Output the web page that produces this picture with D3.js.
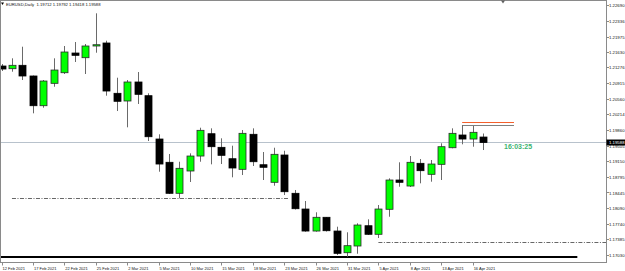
<!DOCTYPE html>
<html>
<head>
<meta charset="utf-8">
<script src="https://cdn.jsdelivr.net/npm/d3@7"></script>
<style>
  body { margin: 0; background: #fff; }
  svg { display: block; font-family: "Liberation Sans", Arial, sans-serif; }
</style>
</head>
<body>
<script>
// daily bars, 12 Feb 2021 .. 19 Apr 2021
const opens = [1.21320,1.21259,1.21336,1.21094,1.20421,1.20928,1.21168,1.21614,1.21508,1.21773,
  1.21841,1.20702,1.20528,1.20958,1.20648,1.19667,1.19140,1.18438,1.18943,1.19282,
  1.19787,1.19479,1.19221,1.18981,1.19774,1.19085,1.18687,1.19305,1.18438,1.18082,
  1.17584,1.17895,1.17584,1.17093,1.17245,1.17704,1.17510,1.18076,1.18739,1.18603,
  1.19117,1.18868,1.19094,1.19470,1.19758,1.19667,1.19712];
const highs = [1.21365,1.21494,1.21757,1.21105,1.21003,1.21494,1.21773,1.21863,1.21818,1.22513,
  1.21893,1.21055,1.21003,1.21184,1.20702,1.19774,1.19328,1.19153,1.19343,1.19923,
  1.19909,1.19683,1.19516,1.19871,1.19909,1.19373,1.19470,1.19402,1.18513,1.18264,
  1.18008,1.17901,1.17682,1.17555,1.17759,1.17849,1.18173,1.18777,1.19140,1.19282,
  1.19214,1.19192,1.19570,1.19909,1.19984,1.19962,1.19792];
const lows = [1.21207,1.21191,1.21003,1.20249,1.20376,1.20851,1.21139,1.21411,1.21139,1.21621,
  1.20648,1.20301,1.19932,1.20460,1.19622,1.18927,1.18422,1.18325,1.18694,1.19153,
  1.19094,1.19101,1.18800,1.18852,1.19056,1.18739,1.18610,1.18399,1.18071,1.17569,
  1.17569,1.17573,1.17041,1.17003,1.17070,1.17494,1.17426,1.17908,1.18587,1.18581,
  1.18664,1.18701,1.18739,1.19457,1.19547,1.19493,1.19418];
const closes = [1.21252,1.21336,1.21094,1.20421,1.20980,1.21229,1.21637,1.21562,1.21773,1.21802,
  1.20754,1.20521,1.20958,1.20679,1.19719,1.19101,1.18438,1.19004,1.19282,1.19864,
  1.19493,1.19298,1.19011,1.19796,1.19153,1.19027,1.19321,1.18474,1.18089,1.17584,
  1.17895,1.17591,1.17079,1.17252,1.17720,1.17510,1.18082,1.18739,1.18687,1.19140,
  1.18950,1.19101,1.19493,1.19796,1.19667,1.19819,1.19588];

const dateLabels = ["12 Feb 2021","17 Feb 2021","22 Feb 2021","25 Feb 2021","2 Mar 2021","5 Mar 2021",
  "10 Mar 2021","15 Mar 2021","18 Mar 2021","23 Mar 2021","26 Mar 2021","31 Mar 2021",
  "5 Apr 2021","8 Apr 2021","13 Apr 2021","16 Apr 2021"];
const dateBars = [0,3,6,9,12,15,18,21,24,27,30,33,36,39,42,45];

const priceTicks = ["1.22690","1.22336","1.21975","1.21630","1.21276","1.20915","1.20560","1.20214",
  "1.19860","1.19505","1.19150","1.18795","1.18445","1.18090","1.17740","1.17385","1.17030"];

const header = "EURUSD,Daily  1.19712 1.19792 1.19418 1.19588";
const bid = 1.19588;
const timer = "16:03:25";

// objects drawn on the chart: price level, first bar, last bar
const dashLevels = [[1.18310, 1, 27.4], [1.17329, 36, 70]];
const solidLevels = [[1.16996, -2, 55, "#000", 2], [1.20030, 44, 48.95, "#f4602c", 1], [1.19975, 44, 48.95, "#808080", 1]];
const shiftBar = 47.9;

const W = 625, H = 271;
const plotR = 606.5, plotB = 262.5;

const svg = d3.select("body").append("svg").attr("width", W).attr("height", H);

var x = d3.scaleLinear().domain([0, 46]).range([1.5, 483.1]);
var y = d3.scaleLinear().domain([1.17030, 1.22690]).range([255.5, 5.5]);

const bars = opens.map((o, i) => ({i: i, o: o, h: highs[i], l: lows[i], c: closes[i]}));

svg.append("clipPath").attr("id", "plot")
  .append("rect").attr("x", 0).attr("y", 0).attr("width", plotR).attr("height", plotB);

const g = svg.append("g").attr("clip-path", "url(#plot)");

// bid line
const by = Math.floor(y(bid)) + 0.5;
g.append("line").attr("x1", 0).attr("x2", plotR).attr("y1", by).attr("y2", by)
  .attr("stroke", "#b8c2cc").attr("stroke-width", 1);

// dash-dot levels
g.selectAll("line.dash").data(dashLevels).enter().append("line")
  .attr("class", "dash")
  .attr("x1", d => x(d[1])).attr("x2", d => x(d[2]))
  .attr("y1", d => Math.floor(y(d[0])) + 0.5).attr("y2", d => Math.floor(y(d[0])) + 0.5)
  .attr("stroke", "#404040").attr("stroke-width", 0.8)
  .attr("stroke-dasharray", "4,1.5,1,1.5");

g.selectAll("line.lvl").data(solidLevels).enter().append("line")
  .attr("class", "lvl")
  .attr("x1", d => x(d[1])).attr("x2", d => x(d[2]))
  .attr("y1", d => Math.floor(y(d[0])) + (d[4] == 2 ? 0 : 0.5))
  .attr("y2", d => Math.floor(y(d[0])) + (d[4] == 2 ? 0 : 0.5))
  .attr("stroke", d => d[3]).attr("stroke-width", d => d[4]);

// wicks
g.selectAll("line.wick").data(bars).enter().append("line")
  .attr("class", "wick")
  .attr("x1", d => Math.round(x(d.i)) + 0.5).attr("x2", d => Math.round(x(d.i)) + 0.5)
  .attr("y1", d => y(d.h)).attr("y2", d => y(d.l))
  .attr("stroke", "#6a6a6a").attr("stroke-width", 1);

// bodies
const bw = 7;
g.selectAll("rect.body").data(bars).enter().append("rect")
  .attr("class", "body")
  .attr("x", d => Math.round(x(d.i)) + 0.5 - bw / 2)
  .attr("y", d => y(Math.max(d.o, d.c)))
  .attr("width", bw)
  .attr("height", d => Math.max(1, Math.abs(y(d.o) - y(d.c))))
  .attr("fill", d => d.c > d.o ? "#00ff00" : "#000")
  .attr("stroke", d => d.c > d.o ? "#2a2a2a" : "#000")
  .attr("stroke-width", 0.8);

// frame and price axis
svg.append("rect").attr("x", 0.5).attr("y", 0.5).attr("width", plotR - 0.5).attr("height", plotB - 0.5)
  .attr("fill", "none").attr("stroke", "#8a8a8a").attr("stroke-width", 1);

const ax = svg.append("g").attr("font-size", 4.3).attr("fill", "#111");
ax.selectAll("line").data(priceTicks).enter().append("line")
  .attr("x1", plotR).attr("x2", plotR + 2.5)
  .attr("y1", d => Math.floor(y(+d)) + 0.5).attr("y2", d => Math.floor(y(+d)) + 0.5)
  .attr("stroke", "#8a8a8a");
ax.selectAll("text").data(priceTicks).enter().append("text")
  .attr("x", 609).attr("y", d => y(+d) + 1.5)
  .text(d => d);

// bid box
svg.append("rect").attr("x", plotR).attr("y", y(bid) - 3).attr("width", W - plotR).attr("height", 6)
  .attr("fill", "#000");
svg.append("text").attr("x", 609).attr("y", y(bid) + 1.5)
  .attr("font-size", 4.3).attr("fill", "#fff").text(bid.toFixed(5));

// time axis
const tx = svg.append("g").attr("font-size", 4).attr("fill", "#111");
tx.selectAll("line").data(dateBars).enter().append("line")
  .attr("x1", d => Math.round(x(d)) + 0.5).attr("x2", d => Math.round(x(d)) + 0.5)
  .attr("y1", plotB).attr("y2", plotB + 3)
  .attr("stroke", "#8a8a8a");
tx.selectAll("text").data(dateLabels).enter().append("text")
  .attr("x", (d, i) => x(dateBars[i]) + 1)
  .attr("y", 269.5)
  .text(d => d);

// header
svg.append("path").attr("d", "M1,2.5 L4,2.5 L2.5,5 Z").attr("fill", "#000");
svg.append("text").attr("x", 6).attr("y", 5.8).attr("font-size", 4.2).attr("fill", "#111")
  .attr("xml:space", "preserve").text(header);

// chart shift marker
const sx = x(shiftBar);
svg.append("path").attr("d", `M${sx - 2},0.5 L${sx + 2},0.5 L${sx},3.5 Z`).attr("fill", "#606060");

// bar timer
svg.append("text").attr("x", x(48)).attr("y", y(bid) + 6.7)
  .attr("font-size", 7).attr("font-weight", "bold").attr("fill", "#3cb371")
  .text(timer);
</script>
</body>
</html>
